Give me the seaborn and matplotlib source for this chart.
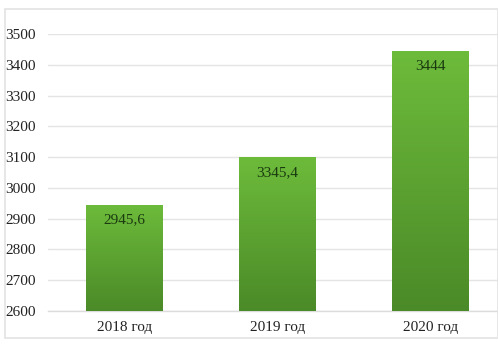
import matplotlib
matplotlib.use("Agg")
import matplotlib.pyplot as plt
import seaborn as sns
import numpy as np
import pandas as pd
from matplotlib.colors import LinearSegmentedColormap
from matplotlib.patches import Rectangle

sns.set_theme(style="white")
plt.rcParams['font.family'] = ['Liberation Serif', 'DejaVu Serif']

# data (bar heights as drawn, labels as printed)
years = ["2018 год", "2019 год", "2020 год"]
bar_values = [2945.6, 3100, 3444]
bar_labels = ["2945,6", "3345,4", "3444"]
y_ticks = [2600, 2700, 2800, 2900, 3000, 3100, 3200, 3300, 3400, 3500]

df = pd.DataFrame({"year": years, "value": bar_values})

fig = plt.figure(figsize=(4.98, 3.51), dpi=100)
# outer chart frame
fig.patches.append(Rectangle((5 / 498, 1 - 338 / 351), 493 / 498, 329 / 351,
                             transform=fig.transFigure, fill=False,
                             edgecolor="#e3e3e3", linewidth=1.2))
ax = fig.add_axes([48 / 498, 1 - 311 / 351, 1 - 48 / 498, (311 - 34) / 351])

sns.barplot(data=df, x="year", y="value", ax=ax, width=0.5,
            color="#5da332", saturation=1, zorder=2)

ax.set_xlabel("")
ax.set_ylabel("")
ax.set_yticks(y_ticks)
ax.yaxis.grid(True, color="#e4e4e4", linewidth=1.0, zorder=0)
ax.set_axisbelow(True)
for s in ["top", "right", "left"]:
    ax.spines[s].set_visible(False)
ax.spines["bottom"].set_color("#dcdcdc")
ax.spines["bottom"].set_linewidth(1.0)
ax.tick_params(axis="both", length=0, labelsize=11, colors="#222222")
ax.tick_params(axis="y", pad=9)
ax.tick_params(axis="x", pad=7)

# vertical gradient fill on each bar
cmap = LinearSegmentedColormap.from_list("g", ["#4b8a28", "#6dbb3b"])
grad = np.linspace(0, 1, 256).reshape(-1, 1)
for bar, lab in zip(ax.patches, bar_labels):
    x0, w, h = bar.get_x(), bar.get_width(), bar.get_height()
    y0 = bar.get_y()
    im = ax.imshow(grad, cmap=cmap, aspect="auto", origin="lower",
                   extent=[x0, x0 + w, 2600, y0 + h], zorder=3)
    im.set_clip_path(bar)
    bar.set_edgecolor("none")
    ax.annotate(lab, (x0 + w / 2, y0 + h), xytext=(0, -11),
                textcoords="offset points", ha="center", va="center",
                fontsize=11, color="#1a3a10", zorder=4)

ax.set_xlim(-0.5, 2.44)
ax.set_ylim(2600, 3500)

fig.savefig("out.png", dpi=100)
